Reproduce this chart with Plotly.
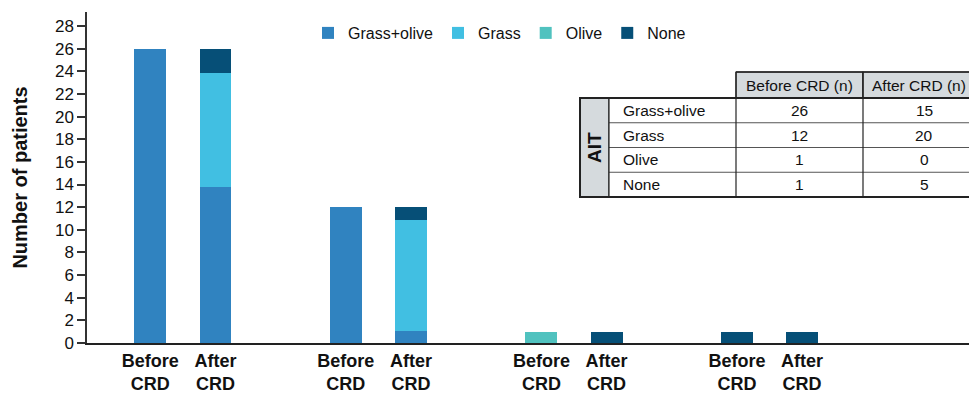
import plotly.graph_objects as go

# ---------------- data ----------------
group_names = ["Grass+olive", "Grass", "Olive", "None"]          # AIT before CRD (groups)
bar_labels = ["Before<br>CRD", "After<br>CRD"]                    # tick labels within each group

# stacked series values for the 8 bars (group1 before, group1 after, group2 before, ...)
grass_olive = [26, 13.8, 12, 1.05, 0, 0, 0, 0]
grass       = [0, 10.05, 0, 9.8, 0, 0, 0, 0]
olive       = [0, 0, 0, 0, 1, 0, 0, 0]
none        = [0, 2.15, 0, 1.15, 0, 1, 1, 1]

series_names = ["Grass+olive", "Grass", "Olive", "None"]
series_values = [grass_olive, grass, olive, none]

# inset table
table_cols = ["Before CRD (n)", "After CRD (n)"]
table_rows = ["Grass+olive", "Grass", "Olive", "None"]
before_n = [26, 12, 1, 1]
after_n = [15, 20, 0, 5]

y_ticks = list(range(0, 29, 2))

# ---------------- styles ----------------
colors = ["#3083c0", "#41bfe2", "#50c2bf", "#064f77"]
W, H = 969, 395
ML, MR, MT, MB = 87, 0, 12, 52
PW, PH = W - ML - MR, H - MT - MB

def px2x(px):
    return (px - ML) / PW

def py2y(py):
    return (H - MB - py) / PH

# bar positions: two bars per group, groups 3 units apart
x_pos = [g * 3 + j for g in range(len(group_names)) for j in range(len(bar_labels))]
tick_text = [bar_labels[j] for g in range(len(group_names)) for j in range(len(bar_labels))]

fig = go.Figure()
for name, vals, col in zip(series_names, series_values, colors):
    fig.add_trace(go.Bar(
        x=x_pos, y=vals, name=name, width=0.49,
        marker=dict(color=col, line=dict(width=0)),
    ))

font_fam = "Liberation Sans, Arial, Helvetica, sans-serif"

fig.update_layout(
    width=W, height=H,
    margin=dict(l=ML, r=MR, t=MT, b=MB, autoexpand=False),
    barmode="stack",
    plot_bgcolor="white", paper_bgcolor="white",
    font=dict(family=font_fam, color="#111", size=16),
    legend=dict(orientation="h", x=px2x(308), xanchor="left", y=py2y(33), yanchor="middle",
                font=dict(size=16, color="#111"), traceorder="normal",
                bgcolor="rgba(0,0,0,0)", itemclick=False),
    showlegend=True,
)

fig.update_xaxes(
    range=[(ML - 150.3) / 65.18, (W - 150.3) / 65.18],
    tickvals=x_pos, ticktext=tick_text,
    tickfont=dict(size=18, family=font_fam, color="#111", weight="bold"),
    showline=True, linecolor="#222", linewidth=2,
    ticks="", showgrid=False, zeroline=False, automargin=False,
)
fig.update_yaxes(
    range=[0, 29.24],
    tickvals=y_ticks,
    tickfont=dict(size=17, color="#111"),
    ticks="outside", ticklen=8, tickwidth=1.5, tickcolor="#333",
    showline=True, linecolor="#333", linewidth=1.5,
    showgrid=False, zeroline=False, automargin=False,
    title=dict(text="<b>Number of patients</b>", font=dict(size=20, color="#111"), standoff=22),
)

# ---------------- inset table ----------------
hdr_top, hdr_bot = 72, 98
row_h = (197 - 98) / len(table_rows)
x_ait0, x_ait1, x_lab1, x_c1, x_c2 = 580, 609, 736, 863, 990
fill = "#d5dadd"
dark = "#222"

def rect(x0, y0, x1, y1, fillcolor="rgba(0,0,0,0)", lw=1.2, lc=dark):
    fig.add_shape(type="rect", xref="paper", yref="paper",
                  x0=px2x(x0), x1=px2x(x1), y0=py2y(y1), y1=py2y(y0),
                  fillcolor=fillcolor, line=dict(color=lc, width=lw), layer="above")

def line(x0, y0, x1, y1, lw=1.2, lc=dark):
    fig.add_shape(type="line", xref="paper", yref="paper",
                  x0=px2x(x0), x1=px2x(x1), y0=py2y(y0), y1=py2y(y1),
                  line=dict(color=lc, width=lw), layer="above")

# header cells
rect(x_lab1, hdr_top, x_c1, hdr_bot, fillcolor=fill)
rect(x_c1, hdr_top, x_c2, hdr_bot, fillcolor=fill)
# AIT cell
rect(x_ait0, hdr_bot, x_ait1, 197, fillcolor=fill)
# white body
rect(x_ait1, hdr_bot, x_c2, 197, fillcolor="white", lw=0)
# row separators
for i in range(1, len(table_rows)):
    yy = hdr_bot + i * row_h
    line(x_ait1, yy, x_c2, yy, lw=1, lc="#555")
# vertical lines
line(x_ait1, hdr_bot, x_ait1, 197)
line(x_lab1, hdr_top, x_lab1, 197)
line(x_c1, hdr_top, x_c1, 197)
# outer border
rect(x_ait0, hdr_bot, x_c2, 197, lw=2)
line(x_lab1, hdr_top, x_c2, hdr_top, lw=1.5)
line(x_lab1, hdr_bot, x_c2, hdr_bot, lw=1.5)

tfont = dict(size=15.5, color="#111", family=font_fam)
c1_mid, c2_mid = (x_lab1 + x_c1) / 2, 919
for txt, xm in zip(table_cols, [c1_mid, c2_mid]):
    fig.add_annotation(x=px2x(xm), y=py2y((hdr_top + hdr_bot) / 2), xref="paper", yref="paper",
                       text=txt, showarrow=False, font=tfont, xanchor="center", yanchor="middle")
for i, (lab, b, a) in enumerate(zip(table_rows, before_n, after_n)):
    ym = py2y(hdr_bot + (i + 0.5) * row_h)
    fig.add_annotation(x=px2x(621), y=ym, xref="paper", yref="paper", text=lab,
                       showarrow=False, font=tfont, xanchor="left", yanchor="middle")
    fig.add_annotation(x=px2x(c1_mid), y=ym, xref="paper", yref="paper", text=str(b),
                       showarrow=False, font=tfont, xanchor="center", yanchor="middle")
    fig.add_annotation(x=px2x(924), y=ym, xref="paper", yref="paper", text=str(a),
                       showarrow=False, font=tfont, xanchor="center", yanchor="middle")
fig.add_annotation(x=px2x((x_ait0 + x_ait1) / 2), y=py2y((hdr_bot + 197) / 2), xref="paper", yref="paper",
                   text="<b>AIT</b>", textangle=-90, showarrow=False,
                   font=dict(size=19, color="#111", family=font_fam),
                   xanchor="center", yanchor="middle")

fig.write_html("out.html", config={"displayModeBar": False},
               post_script="document.body.style.margin='0';")
